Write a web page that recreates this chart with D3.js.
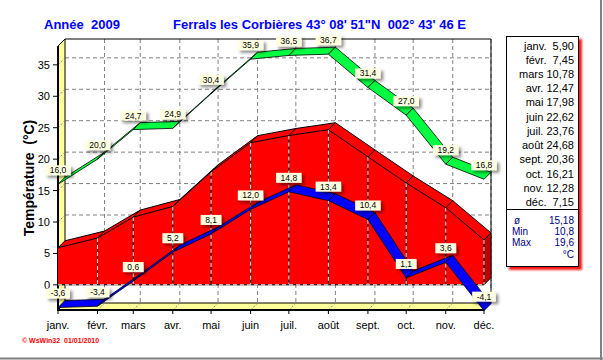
<!DOCTYPE html>
<html><head><meta charset="utf-8">
<script src="https://cdn.jsdelivr.net/npm/d3@7/dist/d3.min.js"></script>
<style>body{margin:0;background:#fff}svg{display:block;font-family:"Liberation Sans",Arial,sans-serif}</style>
</head><body><svg id="c" width="603" height="360"></svg>
<script>
const months = ["janv.","févr.","mars","avr.","mai","juin","juil.","août","sept.","oct.","nov.","déc."];
const meanT = [5.90,7.45,10.78,12.47,17.98,22.62,23.76,24.68,20.36,16.21,12.28,7.15];
const maxT = [16.0,20.0,24.7,24.9,30.4,35.9,36.5,36.7,31.4,27.0,19.2,16.8];
const minT = [-3.6,-3.4,0.6,5.2,8.1,12.0,14.8,13.4,10.4,1.1,3.6,-4.1];
const yTicks = [0,5,10,15,20,25,30,35];
const summaryLabels = ["ø","Min","Max"];
const summaryValues = [15.18,10.8,19.6];

const svg = d3.select("#c");
const DX = 7, DY = -7;
const dates = months.map((m,i)=>new Date(2009,i,1));
const x = d3.scaleTime().domain([new Date(2009,0,1), new Date(2009,11,1)]).range([58,484]);
const y = d3.scaleLinear().domain([-4,38]).range([310,46]);
const X0 = x.range()[0], X1 = x.range()[1], Y0 = y.range()[0], Y1 = y.range()[1];
const fr = v => v.toFixed(1).replace(".",",");
const fr2 = v => v.toFixed(2).replace(".",",");

const defs = svg.append("defs");
const sh = defs.append("filter").attr("id","sh").attr("x","-30%").attr("y","-30%").attr("width","170%").attr("height","190%");
sh.append("feDropShadow").attr("dx",2.5).attr("dy",2.5).attr("stdDeviation",1.5).attr("flood-color","#000").attr("flood-opacity",0.45);
const rs = defs.append("filter").attr("id","rs").attr("x","-20%").attr("y","-5%").attr("width","140%").attr("height","110%");
rs.append("feDropShadow").attr("dx",3).attr("dy",3).attr("stdDeviation",1.2).attr("flood-color","#ff0000").attr("flood-opacity",0.9);

// window border
svg.append("line").attr("x1",601).attr("x2",601).attr("y1",0).attr("y2",360).attr("stroke","#808080").attr("stroke-width",2);
svg.append("line").attr("x1",0).attr("x2",603).attr("y1",358.5).attr("y2",358.5).attr("stroke","#808080").attr("stroke-width",2);

// titles
svg.append("text").attr("x",44).attr("y",28.5).attr("fill","#0000ff").attr("font-weight","bold").attr("font-size",13).style("white-space","pre").text("Année  2009");
svg.append("text").attr("x",173).attr("y",28.5).attr("fill","#0000ff").attr("font-weight","bold").attr("font-size",13).style("white-space","pre").text("Ferrals les Corbières 43° 08' 51\"N  002° 43' 46 E");

const dash = "4,3";
// back wall gridlines
svg.append("g").selectAll("line").data(yTicks).join("line")
  .attr("x1",X0+DX).attr("x2",X1+DX).attr("y1",d=>y(d)+DY).attr("y2",d=>y(d)+DY)
  .attr("stroke","#808080").attr("stroke-dasharray",dash);
svg.append("g").selectAll("line").data(dates.slice(1)).join("line")
  .attr("x1",d=>x(d)+DX).attr("x2",d=>x(d)+DX).attr("y1",Y1+DY).attr("y2",Y0+DY)
  .attr("stroke","#808080").attr("stroke-dasharray",dash);
// frame
svg.append("path").attr("d",`M${X0+DX},${Y1+DY}H${X1+DX}V${Y0+DY}`).attr("fill","none").attr("stroke","#000");

// floor
svg.append("path").attr("d",`M${X0},${Y0}L${X0+DX},${Y0+DY}H${X1+DX}L${X1},${Y0}Z`).attr("fill","#ffff99").attr("stroke","#000");
svg.append("g").selectAll("line").data(dates.slice(1)).join("line")
  .attr("x1",d=>x(d)).attr("x2",d=>x(d)+DX).attr("y1",Y0).attr("y2",Y0+DY)
  .attr("stroke","#808080").attr("stroke-dasharray","2,2");
// left wall
svg.append("path").attr("d",`M${X0},${Y0}L${X0},${Y1}L${X0+DX},${Y1+DY}V${Y0+DY}Z`).attr("fill","#ffff99").attr("stroke","#000");
svg.append("g").selectAll("line").data(yTicks).join("line")
  .attr("x1",X0).attr("x2",X0+DX).attr("y1",d=>y(d)).attr("y2",d=>y(d)+DY)
  .attr("stroke","#808080").attr("stroke-dasharray","2,2");
svg.append("line").attr("x1",X0).attr("x2",X0).attr("y1",Y1).attr("y2",Y0+1).attr("stroke","#000").attr("stroke-width",2);
svg.append("line").attr("x1",X0).attr("x2",X1).attr("y1",Y0).attr("y2",Y0).attr("stroke","#000").attr("stroke-width",2);

// y axis ticks & labels
const ya = svg.append("g");
ya.selectAll("line").data(yTicks).join("line").attr("x1",X0-5).attr("x2",X0).attr("y1",d=>y(d)).attr("y2",d=>y(d)).attr("stroke","#000");
ya.selectAll("text").data(yTicks).join("text").attr("x",50).attr("y",d=>y(d)).attr("dy","0.36em").attr("text-anchor","end").attr("font-size",11).text(d=>d);
svg.append("text").attr("transform","translate(34,178) rotate(-90)").attr("text-anchor","middle").attr("font-weight","bold").attr("font-size",14).style("white-space","pre").text("Température  (°C)");

// x axis ticks & labels
const xa = svg.append("g");
xa.selectAll("line").data(dates).join("line").attr("x1",d=>x(d)).attr("x2",d=>x(d)).attr("y1",Y0).attr("y2",Y0+4).attr("stroke","#000");
xa.selectAll("text").data(dates).join("text").attr("x",d=>x(d)).attr("y",328.5).attr("text-anchor","middle").attr("font-size",11).text((d,i)=>months[i]);

// red mean area (3D)
const pts = dates.map((d,i)=>[x(d),y(meanT[i])]);
const y0v = y(0);
const frontPath = `M${pts[0][0]},${y0v}` + pts.map(p=>`L${p[0]},${p[1]}`).join("") + `L${pts[11][0]},${y0v}Z`;
const topPath = `M${pts[0][0]},${pts[0][1]}` + pts.map(p=>`L${p[0]},${p[1]}`).join("") + pts.slice().reverse().map(p=>`L${p[0]+DX},${p[1]+DY}`).join("") + "Z";
const last = pts[11];
svg.append("path").attr("d",topPath).attr("fill","#ff0000");
svg.append("path").attr("d",`M${last[0]},${last[1]}L${last[0]+DX},${last[1]+DY}V${y0v+DY}L${last[0]},${y0v}Z`).attr("fill","#c00000").attr("stroke","#000").attr("stroke-width",0.8);
svg.append("path").attr("d",frontPath).attr("fill","#ff0000");
// grid over red front face
svg.append("g").selectAll("line").data(pts.slice(1)).join("line")
  .attr("x1",p=>p[0]).attr("x2",p=>p[0]).attr("y1",p=>p[1]).attr("y2",y0v).attr("stroke","#000");
svg.append("g").selectAll("line").data(pts.slice(1)).join("line")
  .attr("x1",p=>p[0]).attr("x2",p=>p[0]).attr("y1",p=>p[1]).attr("y2",y0v).attr("stroke","#fff").attr("stroke-dasharray","4,3");
svg.append("line").attr("x1",X0).attr("x2",last[0]).attr("y1",y0v).attr("y2",y0v).attr("stroke","#000");
svg.append("line").attr("x1",X0).attr("x2",last[0]).attr("y1",y0v).attr("y2",y0v).attr("stroke","#fff").attr("stroke-dasharray","4,3");
// outlines of top face
svg.append("path").attr("d",d3.line()(pts)).attr("fill","none").attr("stroke","#000");
svg.append("path").attr("d",d3.line()(pts.map(p=>[p[0]+DX,p[1]+DY]))).attr("fill","none").attr("stroke","#000");
svg.append("g").selectAll("line").data(pts).join("line")
  .attr("x1",p=>p[0]).attr("x2",p=>p[0]+DX).attr("y1",p=>p[1]).attr("y2",p=>p[1]+DY).attr("stroke","#000");

// ribbons
function ribbon(vals, color){
  const p = dates.map((d,i)=>[x(d),y(vals[i])]);
  const g = svg.append("g");
  for(let i=0;i<p.length-1;i++){
    const a=p[i], b=p[i+1];
    g.append("path").attr("d",`M${a[0]},${a[1]}L${b[0]},${b[1]}L${b[0]+DX},${b[1]+DY}L${a[0]+DX},${a[1]+DY}Z`)
      .attr("fill",color).attr("stroke","#000").attr("stroke-width",0.8).attr("stroke-linejoin","round");
  }
  return p;
}
const pMax = ribbon(maxT,"#00ff40");
const pMin = ribbon(minT,"#0000ff");

// labels
function labels(p, vals){
  const g = svg.append("g");
  p.forEach((q,i)=>{
    const t = fr(vals[i]);
    const lg = g.append("g");
    const rect = lg.append("rect").attr("fill","#ffffe1").attr("filter","url(#sh)");
    const tx = lg.append("text").attr("x",q[0]).attr("y",q[1]-14).attr("dy","0.35em").attr("text-anchor","middle").attr("font-size",8.5).text(t);
    const w = tx.node().getComputedTextLength()+9;
    rect.attr("x",q[0]-w/2).attr("y",q[1]-19).attr("width",w).attr("height",10);
  });
}
labels(pMax,maxT);
labels(pMin,minT);

// legend table
const L = svg.append("g");
L.append("rect").attr("x",506.5).attr("y",36.5).attr("width",72).attr("height",230).attr("fill","#fff").attr("stroke","#000").attr("filter","url(#rs)");
L.append("line").attr("x1",506.5).attr("x2",578.5).attr("y1",209.5).attr("y2",209.5).attr("stroke","#000");
L.selectAll("text.m").data(months).join("text").attr("class","m")
  .attr("x",574).attr("y",(d,i)=>49.5+i*14.23).attr("text-anchor","end").attr("font-size",11).style("white-space","pre")
  .text((d,i)=>d+" "+(meanT[i]<10?" ":"")+fr2(meanT[i]));
summaryLabels.forEach((s,i)=>{
  L.append("text").attr("x",i===0?517:512).attr("y",224+i*11).attr("text-anchor",i===0?"middle":"start").attr("font-size",10).attr("fill","#000080").text(s);
  L.append("text").attr("x",574).attr("y",224+i*11).attr("text-anchor","end").attr("font-size",10).attr("fill","#000080").text(i===0?fr2(summaryValues[i]):fr(summaryValues[i]));
});
L.append("text").attr("x",574).attr("y",258).attr("text-anchor","end").attr("font-size",10).attr("fill","#000080").text("°C");

// credit
svg.append("text").attr("x",22).attr("y",343).attr("fill","#ff0000").attr("font-weight","bold").attr("font-size",7).style("white-space","pre").text("© WsWin32  01/01/2010");
</script></body></html>
